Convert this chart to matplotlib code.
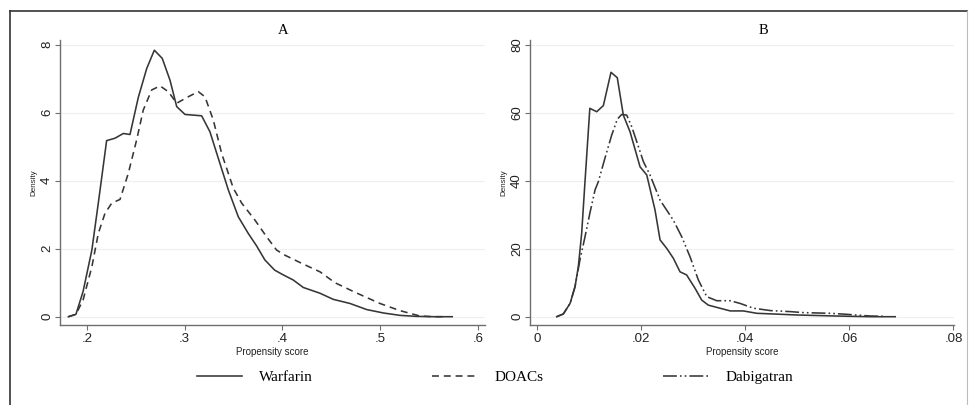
import matplotlib
matplotlib.use("Agg")
import matplotlib.pyplot as plt
from matplotlib.lines import Line2D

# Panel A: propensity score densities, warfarin vs DOACs
a_warf_x = [0.181, 0.1887, 0.196, 0.205, 0.212, 0.2201, 0.2286, 0.2372, 0.244, 0.2525,
            0.2611, 0.2689, 0.277, 0.2849, 0.2918, 0.3003, 0.3173, 0.3258, 0.336, 0.3446,
            0.3548, 0.365, 0.3736, 0.382, 0.392, 0.4008, 0.411, 0.4213, 0.4384, 0.452,
            0.469, 0.4862, 0.5032, 0.52, 0.537, 0.555, 0.5737]
a_warf_y = [0.0, 0.07, 0.74, 1.96, 3.43, 5.18, 5.25, 5.39, 5.36, 6.45,
            7.3, 7.84, 7.6, 6.96, 6.18, 5.95, 5.91, 5.44, 4.51, 3.73,
            2.94, 2.45, 2.08, 1.67, 1.37, 1.23, 1.08, 0.86, 0.69, 0.51,
            0.39, 0.21, 0.11, 0.04, 0.01, 0.0, 0.0]

a_doac_x = [0.181, 0.1887, 0.196, 0.205, 0.2116, 0.2184, 0.2253, 0.2338, 0.2423, 0.2508,
            0.2576, 0.2662, 0.2747, 0.2832, 0.2918, 0.3036, 0.3139, 0.3207, 0.3292, 0.3378,
            0.3497, 0.3583, 0.3719, 0.3838, 0.394, 0.4025, 0.4196, 0.4384, 0.4537, 0.4741,
            0.4997, 0.52, 0.5407, 0.555, 0.568]
a_doac_y = [0.0, 0.07, 0.49, 1.47, 2.45, 3.04, 3.34, 3.45, 4.22, 5.2,
            6.08, 6.67, 6.79, 6.62, 6.28, 6.47, 6.62, 6.47, 5.79, 4.8,
            3.78, 3.34, 2.84, 2.35, 1.96, 1.81, 1.57, 1.32, 1.0, 0.72,
            0.39, 0.18, 0.02, 0.0, 0.0]

# Panel B: warfarin vs dabigatran
b_warf_x = [0.00373, 0.005, 0.0063, 0.00725, 0.00789, 0.00853, 0.00917, 0.0101, 0.01142, 0.0127,
            0.01417, 0.01538, 0.01654, 0.01783, 0.01975, 0.02104, 0.02263, 0.0236, 0.02488, 0.02615,
            0.02744, 0.0287, 0.03033, 0.0316, 0.03288, 0.0351, 0.0371, 0.0396, 0.0422, 0.0454,
            0.0499, 0.0576, 0.064, 0.0688]
b_warf_y = [0.0, 0.8, 3.9, 8.8, 14.7, 24.5, 39.7, 61.3, 60.3, 62.1,
            71.9, 70.3, 59.3, 54.4, 44.1, 41.7, 31.4, 22.6, 20.1, 17.2,
            13.2, 12.3, 8.35, 4.9, 3.4, 2.5, 1.7, 1.7, 1.0, 0.8,
            0.5, 0.2, 0.0, 0.0]

b_dabi_x = [0.00373, 0.005, 0.0063, 0.00725, 0.0082, 0.00917, 0.0101, 0.0111, 0.01173, 0.013,
            0.0143, 0.01538, 0.01623, 0.01719, 0.01815, 0.01912, 0.0204, 0.02167, 0.0236, 0.02615,
            0.02777, 0.02937, 0.03096, 0.03258, 0.0345, 0.0371, 0.039, 0.04154, 0.0448, 0.0486,
            0.0512, 0.0563, 0.0595, 0.064, 0.067]
b_dabi_y = [0.0, 0.8, 3.9, 8.8, 16.7, 23.5, 30.4, 37.3, 39.7, 46.6,
            53.4, 58.1, 59.5, 59.3, 55.9, 51.5, 45.6, 41.7, 34.3, 28.4,
            23.5, 17.6, 10.8, 5.9, 4.7, 4.7, 3.9, 2.5, 1.8, 1.5,
            1.2, 1.0, 0.7, 0.2, 0.1]

a_xticks = [0.2, 0.3, 0.4, 0.5, 0.6]
a_xlabels = [".2", ".3", ".4", ".5", ".6"]
a_yticks = [0, 2, 4, 6, 8]
b_xticks = [0, 0.02, 0.04, 0.06, 0.08]
b_xlabels = ["0", ".02", ".04", ".06", ".08"]
b_yticks = [0, 20, 40, 60, 80]

line_col = "#363636"
dash_doac = (0, (5.0, 3.5))
dash_dabi = (0, (10.0, 2.2, 1.2, 2.2, 1.2, 2.2))

plt.rcParams["lines.scale_dashes"] = False
plt.rcParams["font.family"] = ["Liberation Sans", "DejaVu Sans"]

fig = plt.figure(figsize=(9.7, 4.05), dpi=100)
W, H = 970.0, 405.0

# outer frame like the exported Stata graph
fig.add_artist(Line2D([10 / W, 10 / W], [0, 1 - 11 / H], color="#333333", lw=1.2))
fig.add_artist(Line2D([10 / W, 967 / W], [1 - 11 / H, 1 - 11 / H], color="#333333", lw=1.2))
fig.add_artist(Line2D([967 / W, 967 / W], [0, 1 - 11 / H], color="#bbbbbb", lw=0.8))

axA = fig.add_axes([60 / W, 80 / H, 425 / W, 285 / H])
axB = fig.add_axes([530 / W, 80 / H, 424 / W, 285 / H])

axA.plot(a_warf_x, a_warf_y, color=line_col, lw=1.15)
axA.plot(a_doac_x, a_doac_y, color=line_col, lw=1.15, linestyle=dash_doac)
axB.plot(b_warf_x, b_warf_y, color=line_col, lw=1.15)
axB.plot(b_dabi_x, b_dabi_y, color=line_col, lw=1.15, linestyle=dash_dabi)

axA.set_xlim(0.1724, 0.6072)
axA.set_ylim(-0.244, 8.14)
axB.set_xlim(-0.0014, 0.0801)
axB.set_ylim(-2.44, 81.4)

for ax, xt, xl, yt in [(axA, a_xticks, a_xlabels, a_yticks),
                       (axB, b_xticks, b_xlabels, b_yticks)]:
    ax.set_xticks(xt)
    ax.set_xticklabels(xl)
    ax.set_yticks(yt)
    ax.set_yticklabels([str(v) for v in yt], rotation=90, va="center")
    for v in yt:
        ax.axhline(v, color="#eaf2f2", lw=0.9, zorder=0)
    for s in ["top", "right"]:
        ax.spines[s].set_visible(False)
    for s in ["left", "bottom"]:
        ax.spines[s].set_color("#6e6e6e")
        ax.spines[s].set_linewidth(1.0)
    ax.tick_params(direction="out", length=3.5, width=0.8, color="#6e6e6e",
                   labelsize=9.5, labelcolor="#222222", pad=2.5)
    ax.tick_params(axis="y", pad=1.5)
    ax.set_xlabel("Propensity score", fontsize=7, labelpad=1, color="#222222")
    ax.set_ylabel("Density", fontsize=5.8, labelpad=3, color="#222222")

fig.text(283 / W, 1 - 30 / H, "A", ha="center", va="center",
         family="Liberation Serif", fontsize=10.5)
fig.text(763 / W, 1 - 30 / H, "B", ha="center", va="center",
         family="Liberation Serif", fontsize=10.5)

handles = [Line2D([], [], color=line_col, lw=1.15),
           Line2D([], [], color=line_col, lw=1.15, linestyle=dash_doac),
           Line2D([], [], color=line_col, lw=1.15, linestyle=dash_dabi)]
fig.legend(handles, ["Warfarin", "DOACs", "Dabigatran"], ncol=3,
           loc="center", bbox_to_anchor=(495 / W, 1 - 377 / H), frameon=False,
           prop={"family": "Liberation Serif", "size": 11},
           handlelength=3.0, handletextpad=1.1, columnspacing=7.8)

fig.savefig("out.png", dpi=100)
